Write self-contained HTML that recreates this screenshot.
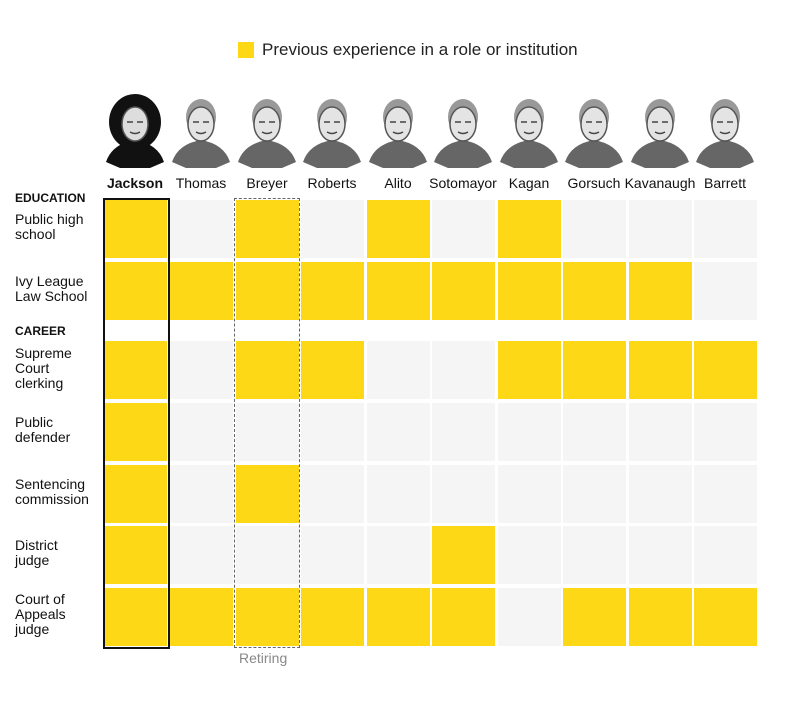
<!DOCTYPE html>
<html><head><meta charset="utf-8"><style>
body{margin:0;width:791px;height:709px;background:#fff;position:relative;font-family:"Liberation Sans",sans-serif;overflow:hidden}
.a{position:absolute}
.c{position:absolute;width:63px;height:58px;background:#f5f5f5}
.y{background:#fcd817}
.n{position:absolute;top:175px;font-size:14px;color:#111;text-align:center;width:80px}
.l{position:absolute;left:15px;font-size:14px;line-height:15px;color:#111}
.h{position:absolute;left:15px;font-size:12px;font-weight:bold;color:#111}
</style></head><body>
<div class="a" style="left:238px;top:42px;width:16px;height:16px;background:#fcd817"></div>
<div class="a" style="left:262px;top:40px;font-size:17px;color:#222">Previous experience in a role or institution</div>
<div id="g"></div>
<div class="h" style="top:191px">EDUCATION</div>
<div class="l" style="top:212px">Public high<br>school</div>
<div class="l" style="top:274px">Ivy League<br>Law School</div>
<div class="h" style="top:324px">CAREER</div>
<div class="l" style="top:346px">Supreme<br>Court<br>clerking</div>
<div class="l" style="top:415px">Public<br>defender</div>
<div class="l" style="top:477px">Sentencing<br>commission</div>
<div class="l" style="top:538px">District<br>judge</div>
<div class="l" style="top:592px">Court of<br>Appeals<br>judge</div>
<div class="n" style="left:95px;font-weight:bold">Jackson</div>
<div class="n" style="left:161px">Thomas</div>
<div class="n" style="left:227px">Breyer</div>
<div class="n" style="left:292px">Roberts</div>
<div class="n" style="left:358px">Alito</div>
<div class="n" style="left:423px">Sotomayor</div>
<div class="n" style="left:489px">Kagan</div>
<div class="n" style="left:554px">Gorsuch</div>
<div class="n" style="left:620px">Kavanaugh</div>
<div class="n" style="left:685px">Barrett</div>
<div class="a" style="left:103px;top:198px;width:63px;height:447px;border:2px solid #111"></div>
<div class="a" style="left:234px;top:198px;width:64px;height:448px;border:1px dashed #666"></div>
<div class="a" style="left:239px;top:650px;font-size:14px;color:#888">Retiring</div>
<script>
var L=[104,170,236,301,367,432,498,563,629,694],T=[200,262,341,403,465,526,588];
var D=["1010101000","1111111110","1011001111","1000000000","1010000000","1000010000","1111110111"];
var h="";
for(var r=0;r<7;r++)for(var c=0;c<10;c++)h+='<div class="c'+(D[r][c]=="1"?" y":"")+'" style="left:'+L[c]+'px;top:'+T[r]+'px"></div>';
for(var c=0;c<10;c++){var x=L[c]+31,j=c==0;
h+='<svg class="a" style="left:'+(x-35)+'px;top:92px" width="70" height="78"><path d="M6 70 Q12 52 35 48 Q58 52 64 70 L50 76 L20 76Z" fill="'+(j?'#111':'#666')+'"/>'+
(j?'<ellipse cx="35" cy="30" rx="26" ry="28" fill="#111"/>':'<ellipse cx="35" cy="25" rx="15" ry="18" fill="#999"/>')+
'<ellipse cx="35" cy="32" rx="13" ry="17" fill="'+(j?'#ddd':'#e4e4e4')+'" stroke="#555" stroke-width="1.5"/><path d="M27 30h6M37 30h6M30 40q5 3 10 0" stroke="#444" stroke-width="1.5" fill="none"/></svg>';}
document.getElementById("g").innerHTML=h;
</script>
</body></html>
